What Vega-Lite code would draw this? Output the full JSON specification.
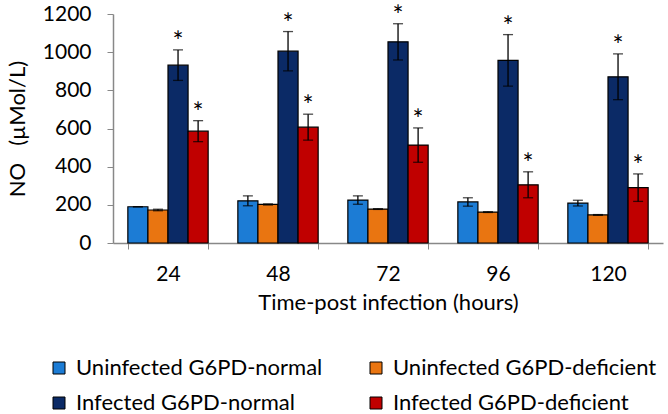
{
  "$schema": "https://vega.github.io/schema/vega-lite/v6.json",
  "autosize": {"type": "none"},
  "width": 550,
  "height": 229,
  "padding": {"left": 113, "top": 14, "right": 5, "bottom": 171},
  "background": "white",
  "config": {
    "font": "Lato",
    "view": {"stroke": null},
    "axis": {"labelFont": "Lato", "titleFont": "Lato", "labelColor": "#000", "titleColor": "#000", "titleFontWeight": "normal", "domainColor": "#888", "tickColor": "#888", "grid": false}
  },
  "data": {"values": [
    {"time": "24", "group": "Uninfected G6PD-normal", "value": 190, "err": 0, "star": ""},
    {"time": "24", "group": "Uninfected G6PD-deficient", "value": 173, "err": 4, "star": ""},
    {"time": "24", "group": "Infected G6PD-normal", "value": 932, "err": 80, "star": "*"},
    {"time": "24", "group": "Infected G6PD-deficient", "value": 586, "err": 55, "star": "*"},
    {"time": "48", "group": "Uninfected G6PD-normal", "value": 221, "err": 26, "star": ""},
    {"time": "48", "group": "Uninfected G6PD-deficient", "value": 202, "err": 3, "star": ""},
    {"time": "48", "group": "Infected G6PD-normal", "value": 1005, "err": 103, "star": "*"},
    {"time": "48", "group": "Infected G6PD-deficient", "value": 607, "err": 68, "star": "*"},
    {"time": "72", "group": "Uninfected G6PD-normal", "value": 225, "err": 22, "star": ""},
    {"time": "72", "group": "Uninfected G6PD-deficient", "value": 178, "err": 2, "star": ""},
    {"time": "72", "group": "Infected G6PD-normal", "value": 1054, "err": 95, "star": "*"},
    {"time": "72", "group": "Infected G6PD-deficient", "value": 513, "err": 90, "star": "*"},
    {"time": "96", "group": "Uninfected G6PD-normal", "value": 215, "err": 22, "star": ""},
    {"time": "96", "group": "Uninfected G6PD-deficient", "value": 162, "err": 2, "star": ""},
    {"time": "96", "group": "Infected G6PD-normal", "value": 957, "err": 135, "star": "*"},
    {"time": "96", "group": "Infected G6PD-deficient", "value": 305, "err": 68, "star": "*"},
    {"time": "120", "group": "Uninfected G6PD-normal", "value": 209, "err": 15, "star": ""},
    {"time": "120", "group": "Uninfected G6PD-deficient", "value": 147, "err": 2, "star": ""},
    {"time": "120", "group": "Infected G6PD-normal", "value": 871, "err": 120, "star": "*"},
    {"time": "120", "group": "Infected G6PD-deficient", "value": 290, "err": 72, "star": "*"}
  ]},
  "transform": [
    {"calculate": "datum.value + datum.err", "as": "hi"},
    {"calculate": "datum.value - datum.err", "as": "lo"}
  ],
  "encoding": {
    "x": {"field": "time", "type": "nominal", "sort": ["24", "48", "72", "96", "120"],
      "scale": {"paddingInner": 0.27, "paddingOuter": 0.135},
      "axis": {"title": "Time-post infection (hours)", "labelAngle": 0, "labelFontSize": 21, "titleFontSize": 22, "tickBand": "extent", "tickSize": 6, "labelPadding": 14, "titlePadding": 8, "domainWidth": 1.5}},
    "xOffset": {"field": "group", "type": "nominal", "sort": ["Uninfected G6PD-normal", "Uninfected G6PD-deficient", "Infected G6PD-normal", "Infected G6PD-deficient"]}
  },
  "layer": [
    {
      "mark": {"type": "bar", "stroke": "#000", "strokeWidth": 1.2},
      "encoding": {
        "y": {"field": "value", "type": "quantitative", "scale": {"domain": [0, 1200]},
          "axis": {"title": "NO\u00a0\u00a0\u00a0(\u00b5Mol/L)", "values": [0, 200, 400, 600, 800, 1000, 1200], "format": "d", "labelOverlap": false, "tickSize": 6, "labelFontSize": 21, "titleFontSize": 22, "labelPadding": 16, "titlePadding": 13, "domainWidth": 1.5}},
        "color": {"field": "group", "type": "nominal",
          "sort": ["Uninfected G6PD-normal", "Uninfected G6PD-deficient", "Infected G6PD-normal", "Infected G6PD-deficient"],
          "scale": {"range": ["#1C7CD5", "#E97511", "#0B2A66", "#C00000"]},
          "legend": {"title": null, "orient": "none", "legendX": -65, "legendY": 343, "columns": 2, "direction": "horizontal", "columnPadding": 42, "rowPadding": 13, "labelFontSize": 22, "labelFont": "Lato", "labelColor": "#000", "labelLimit": 0, "symbolType": "square", "symbolSize": 144, "symbolStrokeColor": "#000", "symbolStrokeWidth": 1, "symbolOpacity": 1, "labelOffset": 6}}
      }
    },
    {
      "mark": {"type": "rule", "color": "#000", "strokeWidth": 1.3},
      "encoding": {"y": {"field": "lo", "type": "quantitative", "scale": {"domain": [0, 1200]},
          "axis": {"title": "NO\u00a0\u00a0\u00a0(\u00b5Mol/L)", "values": [0, 200, 400, 600, 800, 1000, 1200], "format": "d", "labelOverlap": false, "tickSize": 6, "labelFontSize": 21, "titleFontSize": 22, "labelPadding": 16, "titlePadding": 13, "domainWidth": 1.5}}, "y2": {"field": "hi"}}
    },
    {
      "mark": {"type": "tick", "color": "#000", "size": 10, "thickness": 1.3},
      "encoding": {"y": {"field": "hi", "type": "quantitative", "scale": {"domain": [0, 1200]},
          "axis": {"title": "NO\u00a0\u00a0\u00a0(\u00b5Mol/L)", "values": [0, 200, 400, 600, 800, 1000, 1200], "format": "d", "labelOverlap": false, "tickSize": 6, "labelFontSize": 21, "titleFontSize": 22, "labelPadding": 16, "titlePadding": 13, "domainWidth": 1.5}}}
    },
    {
      "mark": {"type": "tick", "color": "#000", "size": 10, "thickness": 1.3},
      "encoding": {"y": {"field": "lo", "type": "quantitative", "scale": {"domain": [0, 1200]},
          "axis": {"title": "NO\u00a0\u00a0\u00a0(\u00b5Mol/L)", "values": [0, 200, 400, 600, 800, 1000, 1200], "format": "d", "labelOverlap": false, "tickSize": 6, "labelFontSize": 21, "titleFontSize": 22, "labelPadding": 16, "titlePadding": 13, "domainWidth": 1.5}}}
    },
    {
      "transform": [{"filter": "datum.star == '*'"}],
      "mark": {"type": "text", "fontSize": 26, "font": "Lato", "color": "#000", "baseline": "alphabetic", "dy": 1},
      "encoding": {"y": {"field": "hi", "type": "quantitative", "scale": {"domain": [0, 1200]},
          "axis": {"title": "NO\u00a0\u00a0\u00a0(\u00b5Mol/L)", "values": [0, 200, 400, 600, 800, 1000, 1200], "format": "d", "labelOverlap": false, "tickSize": 6, "labelFontSize": 21, "titleFontSize": 22, "labelPadding": 16, "titlePadding": 13, "domainWidth": 1.5}}, "text": {"field": "star"}}
    }
  ]
}
